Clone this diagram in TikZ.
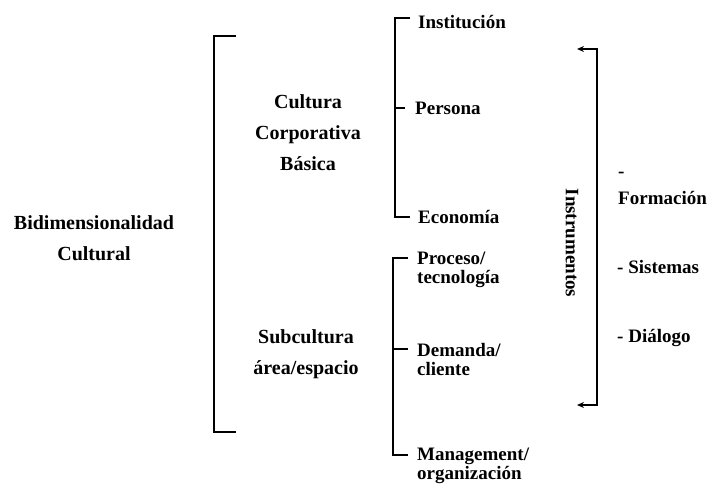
\documentclass[tikz,border=0pt]{standalone}
\usepackage{fontspec}
\setmainfont{Liberation Serif}
\usetikzlibrary{arrows.meta}
\usetikzlibrary{positioning}

\tikzset{
  brack/.style={line width=1.6pt},
  leftlbl/.style={align=center,font=\bfseries\fontsize{20}{31}\selectfont},
  itemlbl/.style={anchor=west,align=left,inner sep=0pt,font=\bfseries\fontsize{19}{19}\selectfont},
}

\begin{document}
\begin{tikzpicture}[x=1pt,y=-1pt]
      \useasboundingbox (0,0) rectangle (709,487);
      % main bracket
      \draw[brack] (236,36) coordinate (m1) -- (214,36) -- (214,432) -- (236,432) coordinate (m2);
      % upper and lower brackets
      \draw[brack] (410,18) coordinate (u1) -- (395,18) -- (395,217) -- (410,217) coordinate (u3);
      \draw[brack] (395,108) -- (405,108) coordinate (u2);
      \draw[brack] (408,258) coordinate (l1) -- (393,258) -- (393,455) -- (408,455) coordinate (l3);
      \draw[brack] (393,349) -- (408,349) coordinate (l2);
      % instruments bracket
      \draw[brack,{Stealth[length=7pt,width=6pt]}-{Stealth[length=7pt,width=6pt]}]
            (577,49) coordinate (i1) -- (597,49) -- (597,405) -- (577,405) coordinate (i2);

      \node[leftlbl] (bidim) at (94,238) {Bidimensionalidad\\Cultural};
      \node[leftlbl] (basica) at (308,133) {Cultura\\Corporativa\\Básica};
      \node[leftlbl] (subcult) at (306,354) {Subcultura\\área/espacio};

      \node[itemlbl] (inst) at (418,22) {Institución};
      \node[itemlbl] (pers) at (415,108) {Persona};
      \node[itemlbl] (econ) at (418,217) {Economía};
      \node[itemlbl] (proc) at (417,270) {Proceso/\\tecnología};
      \node[itemlbl] (dem) at (417,359) {Demanda/\\cliente};
      \node[itemlbl,font=\bfseries\fontsize{19}{17}\selectfont] (mgmt) at (417,466) {Management/\\organización};

      \node[rotate=-90,inner sep=0pt,font=\bfseries\fontsize{19}{19}\selectfont] (instr) at (572,243) {Instrumentos};

      \node[itemlbl,font=\bfseries\fontsize{19}{27}\selectfont] (form) at (618,188) {-\\Formación};
      \node[itemlbl] (sist) at (617,267) {- Sistemas};
      \node[itemlbl] (dial) at (617,338) {- Diálogo};
    \end{tikzpicture}
\end{document}
